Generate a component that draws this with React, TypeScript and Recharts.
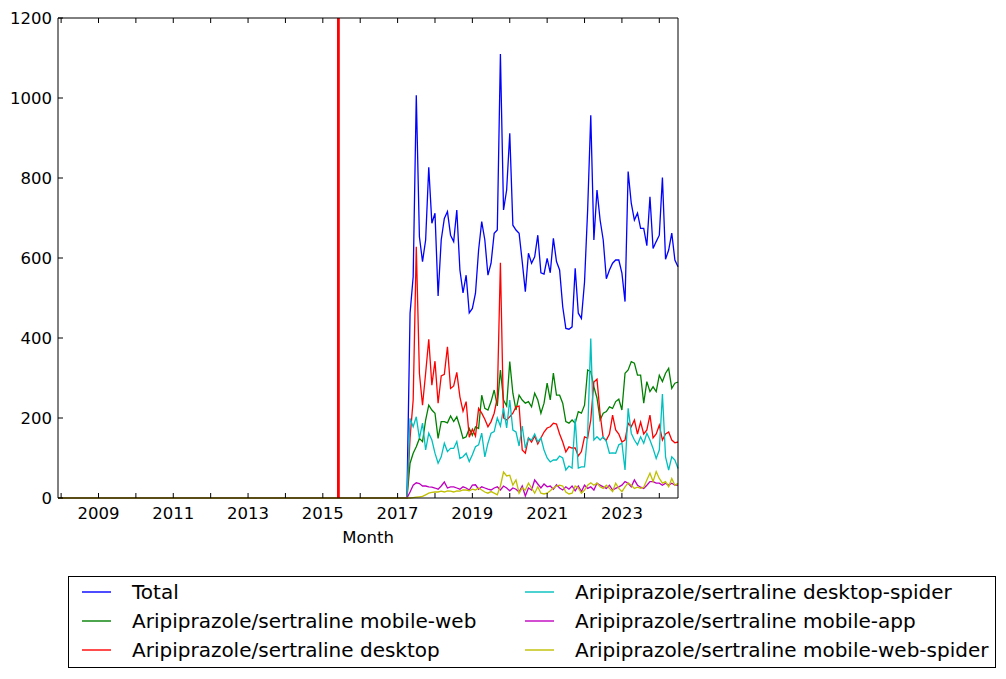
import React from 'react';
import { LineChart, Line, XAxis, YAxis, ReferenceLine, Legend } from 'recharts';

// Months: index 0 = 2007-12 ... index 199 = 2024-07. Values are zero through 2017-04.
const LEADING_ZERO_MONTHS = 113;
const START_YEAR = 2007;
const START_MONTH = 12;

const totalVals = [462,553,1007,653,591,645,827,687,712,505,
  645,699,716,657,641,720,570,513,557,463,
  474,512,620,691,645,557,587,662,670,1110,
  720,770,912,682,670,662,591,516,612,587,
  603,657,563,560,599,563,649,591,570,478,
  424,422,428,574,462,449,540,720,957,645,
  770,695,645,548,570,587,595,595,562,491,
  816,737,695,712,674,674,631,753,624,641,
  657,801,597,620,662,595,578];

const mobileWebVals = [87,112,128,149,141,195,232,220,212,149,
  191,191,188,205,191,203,178,149,153,174,
  157,178,174,257,224,220,241,270,230,320,
  245,230,341,262,220,257,245,237,241,228,
  262,245,212,237,287,245,312,257,257,237,
  191,187,195,187,216,212,232,320,316,278,
  250,195,212,216,228,224,241,247,220,312,
  320,341,337,307,307,237,291,266,278,266,
  307,291,312,324,274,287,290];

const desktopVals = [150,245,628,312,232,312,397,282,342,237,
  305,309,378,274,280,314,253,217,241,152,
  172,155,224,212,197,178,191,212,250,588,
  200,195,203,212,228,230,120,112,150,140,
  155,135,150,165,175,178,187,185,160,140,
  115,128,125,125,105,116,153,150,195,290,
  297,210,150,145,160,207,170,160,140,145,
  187,178,195,160,190,160,170,207,150,160,
  182,145,160,165,145,138,140];

const desktopSpiderVals = [199,178,203,149,187,120,162,145,112,87,
  103,137,116,124,124,141,99,103,112,91,
  108,128,133,162,103,137,162,166,200,180,
  225,175,245,170,165,130,180,125,150,145,
  160,140,150,120,100,90,95,95,105,100,
  70,80,75,198,75,78,78,160,399,145,
  153,145,153,141,112,113,112,133,137,70,
  224,162,145,133,153,137,162,145,124,99,
  120,260,103,70,103,95,74];

const mobileAppVals = [15,32,38,36,30,30,28,27,25,22,
  30,40,25,28,28,25,22,28,25,20,
  32,33,22,28,25,22,20,25,28,20,
  30,25,18,25,22,15,30,5,25,20,
  45,35,25,35,28,30,22,33,25,20,
  28,22,30,18,30,16,32,24,28,20,
  37,32,28,24,32,20,24,28,32,41,
  37,28,45,32,27,24,32,41,41,37,
  37,32,37,32,37,32,32];

const mobileWebSpiderVals = [0,1,2,3,4,8,12,14,15,15,
  17,15,18,17,15,18,17,20,20,18,
  22,20,25,20,15,12,16,12,8,30,
  65,55,57,32,45,12,25,20,37,25,
  12,28,12,10,12,18,25,30,32,30,
  15,10,12,30,25,12,20,32,38,32,
  37,28,24,32,24,16,37,24,16,28,
  38,32,24,27,24,27,45,62,41,66,
  49,37,41,28,49,32,37];

const seriesNames = [
  'Total',
  'Aripiprazole/sertraline mobile-web',
  'Aripiprazole/sertraline desktop',
  'Aripiprazole/sertraline desktop-spider',
  'Aripiprazole/sertraline mobile-app',
  'Aripiprazole/sertraline mobile-web-spider',
];
const seriesKeys = ['total', 'mobileWeb', 'desktop', 'desktopSpider', 'mobileApp', 'mobileWebSpider'];
const seriesColors = ['#0000ff', '#008000', '#ff0000', '#00bfbf', '#bf00bf', '#bfbf00'];
const seriesVals = [totalVals, mobileWebVals, desktopVals, desktopSpiderVals, mobileAppVals, mobileWebSpiderVals];

const yTicks = [0, 200, 400, 600, 800, 1000, 1200];
const tickYears = [2008,2009,2010,2011,2012,2013,2014,2015,2016,2017,2018,2019,2020,2021,2022,2023,2024];
const redLineMonth = { year: 2015, month: 6 };

const monthIndex = (y: number, m: number) => (y - START_YEAR) * 12 + (m - START_MONTH);
const xTicks = tickYears.map((y) => monthIndex(y, 1));
const lastIndex = LEADING_ZERO_MONTHS + totalVals.length - 1;

const zeros = new Array(LEADING_ZERO_MONTHS).fill(0);
const fullSeries = seriesVals.map((v) => [...zeros, ...v]);
const data = fullSeries[0].map((_, i) => {
  const row: any = { i };
  seriesKeys.forEach((k, s) => { row[k] = fullSeries[s][i]; });
  return row;
});

const FONT = 'DejaVu Sans';
const TICK_LEN = 5;

const BottomTick = (p: any) => {
  const { x, y, payload } = p;
  const yr = START_YEAR + Math.floor((payload.value + START_MONTH - 1) / 12);
  return (
    <g>
      <line x1={x} x2={x} y1={y} y2={y - TICK_LEN} stroke="#000" strokeWidth={1} />
      {yr % 2 === 1 && (
        <text x={x} y={y + 21} textAnchor="middle" fontSize={16.5} fontFamily={FONT} fill="#000">{yr}</text>
      )}
    </g>
  );
};
const TopTick = (p: any) => {
  const { x, y } = p;
  return <line x1={x} x2={x} y1={y} y2={y + TICK_LEN} stroke="#000" strokeWidth={1} />;
};
const LeftTick = (p: any) => {
  const { x, y, payload } = p;
  return (
    <g>
      <line x1={x} x2={x + TICK_LEN} y1={y} y2={y} stroke="#000" strokeWidth={1} />
      <text x={x - 6} y={y + 6} textAnchor="end" fontSize={16.5} fontFamily={FONT} fill="#000">{payload.value}</text>
    </g>
  );
};
const RightTick = (p: any) => {
  const { x, y } = p;
  return <line x1={x} x2={x - TICK_LEN} y1={y} y2={y} stroke="#000" strokeWidth={1} />;
};

const renderLegend = () => {
  const rowsY = [16, 45, 74];
  const cols = [
    { handle: 14, text: 64 },
    { handle: 457, text: 507 },
  ];
  return (
    <div style={{ position: 'relative', width: 928, height: 92, border: '1px solid #000', boxSizing: 'border-box', background: '#fff', fontFamily: FONT }}>
      <svg width={926} height={90} style={{ position: 'absolute', left: 0, top: 0 }}>
        {seriesNames.map((name, k) => {
          const col = cols[Math.floor(k / 3)];
          const cy = rowsY[k % 3] - 1;
          return (
            <line key={name} x1={col.handle - 1} x2={col.handle + 28} y1={cy} y2={cy} stroke={seriesColors[k]} strokeWidth={1.4} />
          );
        })}
      </svg>
      {seriesNames.map((name, k) => {
        const col = cols[Math.floor(k / 3)];
        const cy = rowsY[k % 3];
        return (
          <div key={name} style={{ position: 'absolute', left: col.text - 1, top: cy - 11, fontSize: 20, lineHeight: '20px', whiteSpace: 'nowrap', color: '#000' }}>{name}</div>
        );
      })}
    </div>
  );
};

export default function App() {
  return (
    <div style={{ width: 998, height: 671 }}>
      <LineChart width={998} height={671} data={data} margin={{ top: 9, right: 327, bottom: 29, left: 0 }}>
        <XAxis xAxisId="b" dataKey="i" type="number" domain={[0, lastIndex]} ticks={xTicks} interval={0}
          height={60} tickSize={0} tickMargin={0} tickLine={false} tick={<BottomTick />}
          axisLine={{ stroke: '#000', strokeWidth: 1 }}
          label={{ value: 'Month', position: 'insideTop', offset: 33, fontSize: 16.5, fontFamily: FONT, fill: '#000' }} />
        <XAxis xAxisId="t" orientation="top" dataKey="i" type="number" domain={[0, lastIndex]} ticks={xTicks} interval={0}
          height={1} tickSize={0} tickMargin={0} tickLine={false} tick={<TopTick />}
          axisLine={{ stroke: '#000', strokeWidth: 1 }} />
        <YAxis yAxisId="l" type="number" domain={[0, 1200]} ticks={yTicks} interval={0} width={50}
          tickSize={0} tickMargin={0} tickLine={false} tick={<LeftTick />}
          axisLine={{ stroke: '#000', strokeWidth: 1 }} />
        <YAxis yAxisId="r" orientation="right" type="number" domain={[0, 1200]} ticks={yTicks} interval={0} width={1}
          tickSize={0} tickMargin={0} tickLine={false} tick={<RightTick />}
          axisLine={{ stroke: '#000', strokeWidth: 1 }} />
        {seriesKeys.map((k, s) => (
          <Line key={k} xAxisId="b" yAxisId="l" type="linear" dataKey={k} name={seriesNames[s]}
            stroke={seriesColors[s]} strokeWidth={1.3} dot={false} activeDot={false} isAnimationActive={false} />
        ))}
        <ReferenceLine xAxisId="b" yAxisId="l" x={monthIndex(redLineMonth.year, redLineMonth.month)} stroke="#ff0000" strokeWidth={2.8} />
        <Legend content={renderLegend} wrapperStyle={{ position: 'absolute', left: 60, top: 568, width: 928, height: 92 }} />
      </LineChart>
    </div>
  );
}
